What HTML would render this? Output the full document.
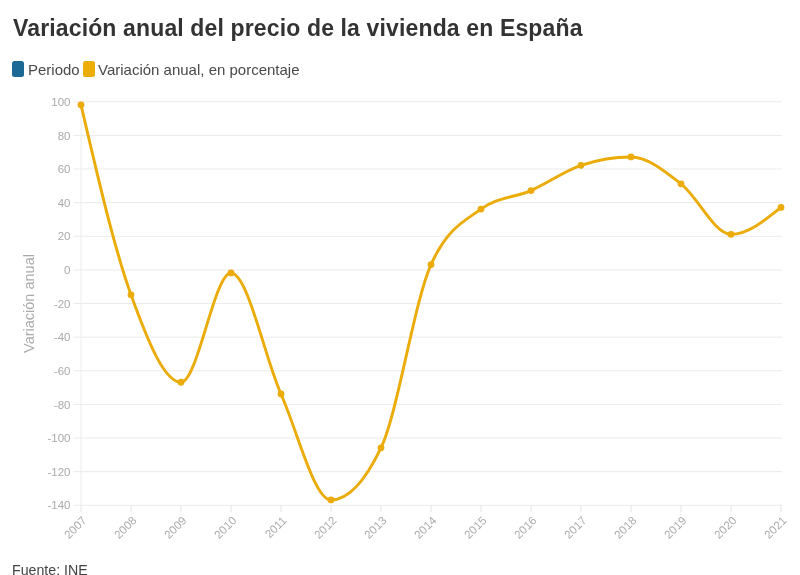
<!DOCTYPE html>
<html><head><meta charset="utf-8"><style>
html,body{margin:0;padding:0;background:#fff;width:800px;height:575px;overflow:hidden}
.title,.legend .lt,.src,svg{will-change:transform}
body{position:relative;font-family:"Liberation Sans",Arial,sans-serif}
.title{position:absolute;left:13px;top:14px;font-size:23px;font-weight:bold;color:#333;white-space:nowrap;letter-spacing:0.14px;line-height:28px}
.legend{position:absolute;left:12px;top:60px;height:16px;font-size:15px;color:#4a4a4a;white-space:nowrap;line-height:16px}
.sw{position:absolute;top:1px;width:12px;height:16px;border-radius:2.5px}
.lt{position:absolute;top:2px}
.src{position:absolute;left:12.2px;top:562px;font-size:14.2px;color:#444;white-space:nowrap;line-height:16px}
svg{position:absolute;left:0;top:0}
</style></head><body>
<div class="title">Variación anual del precio de la vivienda en España</div>
<div class="legend">
<span class="sw" style="left:0;background:#1d6996"></span><span class="lt" style="left:16px">Periodo</span>
<span class="sw" style="left:71px;background:#edad08"></span><span class="lt" style="left:86px">Variación anual, en porcentaje</span>
</div>
<svg width="800" height="575" viewBox="0 0 800 575">
<g stroke="#ebebeb" stroke-width="1"><line x1="73.5" y1="101.78" x2="782" y2="101.78"/><line x1="73.5" y1="135.40" x2="782" y2="135.40"/><line x1="73.5" y1="169.03" x2="782" y2="169.03"/><line x1="73.5" y1="202.65" x2="782" y2="202.65"/><line x1="73.5" y1="236.28" x2="782" y2="236.28"/><line x1="73.5" y1="269.90" x2="782" y2="269.90"/><line x1="73.5" y1="303.53" x2="782" y2="303.53"/><line x1="73.5" y1="337.15" x2="782" y2="337.15"/><line x1="73.5" y1="370.78" x2="782" y2="370.78"/><line x1="73.5" y1="404.40" x2="782" y2="404.40"/><line x1="73.5" y1="438.03" x2="782" y2="438.03"/><line x1="73.5" y1="471.65" x2="782" y2="471.65"/><line x1="73.5" y1="505.28" x2="782" y2="505.28"/></g>
<line x1="81" y1="101" x2="81" y2="505" stroke="#ececec" stroke-width="1"/>
<g stroke="#e4e4e4" stroke-width="1"><line x1="81.0" y1="505" x2="81.0" y2="512"/><line x1="131.0" y1="505" x2="131.0" y2="512"/><line x1="181.0" y1="505" x2="181.0" y2="512"/><line x1="231.0" y1="505" x2="231.0" y2="512"/><line x1="281.0" y1="505" x2="281.0" y2="512"/><line x1="331.0" y1="505" x2="331.0" y2="512"/><line x1="381.0" y1="505" x2="381.0" y2="512"/><line x1="431.0" y1="505" x2="431.0" y2="512"/><line x1="481.0" y1="505" x2="481.0" y2="512"/><line x1="531.0" y1="505" x2="531.0" y2="512"/><line x1="581.0" y1="505" x2="581.0" y2="512"/><line x1="631.0" y1="505" x2="631.0" y2="512"/><line x1="681.0" y1="505" x2="681.0" y2="512"/><line x1="731.0" y1="505" x2="731.0" y2="512"/><line x1="781.0" y1="505" x2="781.0" y2="512"/></g>
<g fill="#aaa" font-size="11.5" text-anchor="end" font-family="Liberation Sans, Arial, sans-serif"><text x="70.5" y="105.88">100</text><text x="70.5" y="139.50">80</text><text x="70.5" y="173.13">60</text><text x="70.5" y="206.75">40</text><text x="70.5" y="240.38">20</text><text x="70.5" y="274.00">0</text><text x="70.5" y="307.62">-20</text><text x="70.5" y="341.25">-40</text><text x="70.5" y="374.88">-60</text><text x="70.5" y="408.50">-80</text><text x="70.5" y="442.12">-100</text><text x="70.5" y="475.75">-120</text><text x="70.5" y="509.38">-140</text></g>
<g fill="#aaa" font-size="11.5" text-anchor="end" font-family="Liberation Sans, Arial, sans-serif"><text transform="translate(87.2,521.3) rotate(-45)">2007</text><text transform="translate(137.2,521.3) rotate(-45)">2008</text><text transform="translate(187.2,521.3) rotate(-45)">2009</text><text transform="translate(237.2,521.3) rotate(-45)">2010</text><text transform="translate(287.2,521.3) rotate(-45)">2011</text><text transform="translate(337.2,521.3) rotate(-45)">2012</text><text transform="translate(387.2,521.3) rotate(-45)">2013</text><text transform="translate(437.2,521.3) rotate(-45)">2014</text><text transform="translate(487.2,521.3) rotate(-45)">2015</text><text transform="translate(537.2,521.3) rotate(-45)">2016</text><text transform="translate(587.2,521.3) rotate(-45)">2017</text><text transform="translate(637.2,521.3) rotate(-45)">2018</text><text transform="translate(687.2,521.3) rotate(-45)">2019</text><text transform="translate(737.2,521.3) rotate(-45)">2020</text><text transform="translate(787.2,521.3) rotate(-45)">2021</text></g>
<text transform="translate(34.4,303.5) rotate(-90)" text-anchor="middle" fill="#aaa" font-size="14.5" font-family="Liberation Sans, Arial, sans-serif">Variación anual</text>
<path d="M81.00,104.84C97.67,176.71 114.33,248.58 131.00,294.82C147.67,341.05 164.33,382.24 181.00,382.24C197.67,382.24 214.33,272.96 231.00,272.96C247.67,272.96 264.33,356.18 281.00,394.01C297.67,431.84 314.33,499.93 331.00,499.93C347.67,499.93 364.33,482.56 381.00,447.81C397.67,413.07 414.33,301.54 431.00,264.56C447.67,227.57 464.33,221.40 481.00,209.08C497.67,196.75 514.33,197.87 531.00,190.58C547.67,183.30 564.33,170.97 581.00,165.36C597.67,159.76 614.33,156.96 631.00,156.96C647.67,156.96 664.33,170.97 681.00,183.86C697.67,196.75 714.33,234.29 731.00,234.29C747.67,234.29 764.33,220.84 781.00,207.39" fill="none" stroke="#ebab08" stroke-width="2.9" stroke-linejoin="round"/>
<g fill="#ebab08"><circle cx="81.00" cy="104.84" r="3.4"/><circle cx="131.00" cy="294.82" r="3.4"/><circle cx="181.00" cy="382.24" r="3.4"/><circle cx="231.00" cy="272.96" r="3.4"/><circle cx="281.00" cy="394.01" r="3.4"/><circle cx="331.00" cy="499.93" r="3.4"/><circle cx="381.00" cy="447.81" r="3.4"/><circle cx="431.00" cy="264.56" r="3.4"/><circle cx="481.00" cy="209.08" r="3.4"/><circle cx="531.00" cy="190.58" r="3.4"/><circle cx="581.00" cy="165.36" r="3.4"/><circle cx="631.00" cy="156.96" r="3.4"/><circle cx="681.00" cy="183.86" r="3.4"/><circle cx="731.00" cy="234.29" r="3.4"/><circle cx="781.00" cy="207.39" r="3.4"/></g>
</svg>
<div class="src">Fuente: INE</div>
</body></html>
